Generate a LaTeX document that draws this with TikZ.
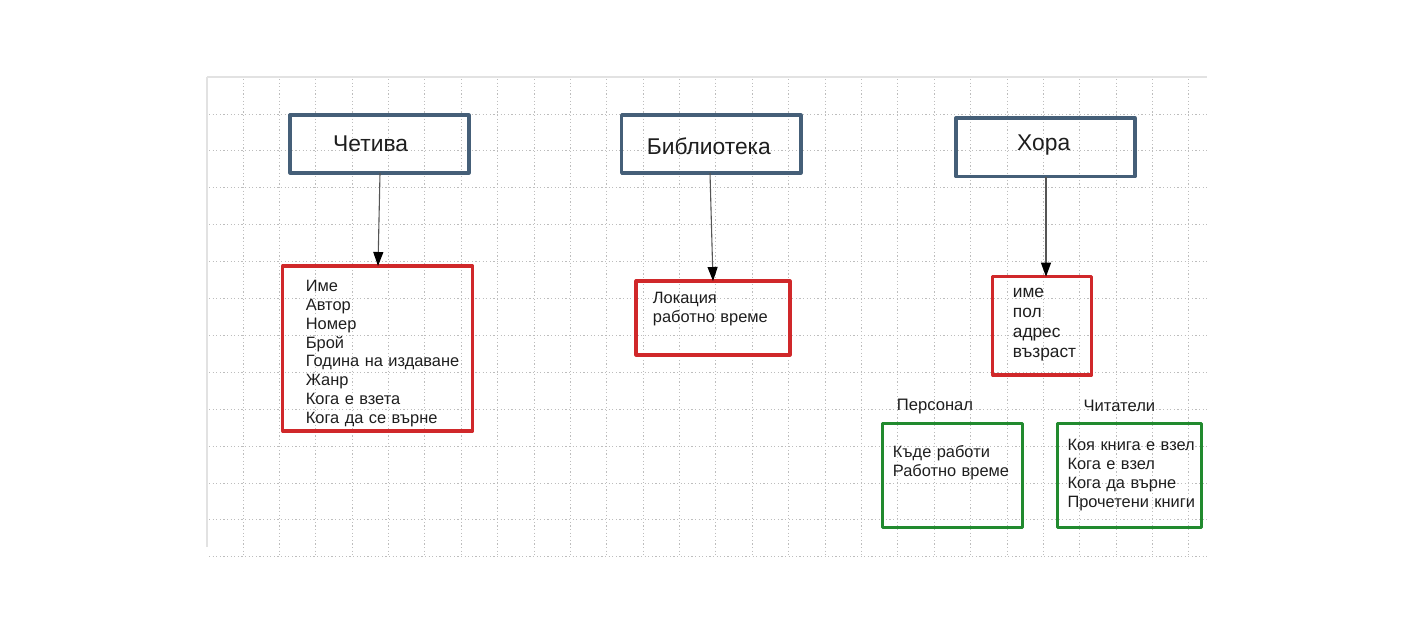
\documentclass[tikz,border=0pt]{standalone}
\usepackage{fontspec}
\setmainfont{Liberation Sans}
\usetikzlibrary{arrows.meta}
\definecolor{boxblue}{HTML}{455F78}
\definecolor{boxred}{HTML}{D0282A}
\definecolor{boxgreen}{HTML}{218A2E}
\definecolor{gridgray}{HTML}{BDBDBD}
\definecolor{edgegray}{HTML}{E2E2E2}
\definecolor{txt}{HTML}{1E1E1E}
\definecolor{arrowgray}{HTML}{555555}
\tikzset{
  gridline/.style={gridgray, line width=0.9pt, dash pattern=on 1.2pt off 2.4pt},
  titlebox/.style={draw=boxblue, line width=3.2pt, rectangle, inner sep=0pt, outer sep=0pt, line join=round},
  attrbox/.style={draw=boxred, line width=3.2pt, rectangle, inner sep=0pt, outer sep=0pt, line join=round},
  rolebox/.style={draw=boxgreen, line width=3.2pt, rectangle, inner sep=0pt, outer sep=0pt, line join=round},
  titletext/.style={txt, inner sep=0pt, anchor=base west, font=\fontsize{22.8}{27}\selectfont},
  attrtext/.style={txt, inner sep=0pt, anchor=base west, align=left, text width=200pt, font=\fontsize{16.4}{18.8}\selectfont},
  roletext/.style={txt, inner sep=0pt, anchor=base west, font=\fontsize{16.6}{18.8}\selectfont},
  link/.style={arrowgray, line width=1.1pt, -{Triangle[length=14pt,width=10pt,color=black]}}
}
\begin{document}
\begin{tikzpicture}[x=1pt,y=-1pt]
\useasboundingbox (0,0) rectangle (1416,631);
% grid
\foreach \i in {0,...,26} {
  \draw[gridline] ({243+36.38*\i},79) -- ({243+36.38*\i},557);
}
\foreach \j in {0,...,12} {
  \draw[gridline] (209,{114+36.9*\j}) -- (1207,{114+36.9*\j});
}
\draw[edgegray, line width=2.5pt] (207,77) -- (1207,77);
\draw[edgegray, line width=2.5pt] (207,77) -- (207,547);
% title boxes
\node[titlebox, minimum width=179pt, minimum height=58pt] (B1) at (379.5,144) {};
\node[titlebox, minimum width=179.3pt, minimum height=58pt] (B2) at (711.3,144) {};
\node[titlebox, minimum width=179pt, minimum height=58.7pt] (B3) at (1045.5,147.3) {};
\node[titletext] (T1) at (333,151.7) {Четива};
\node[titletext] (T2) at (646.7,155) {Библиотека};
\node[titletext] (T3) at (1017,150.7) {Хора};
% attribute boxes
\node[attrbox, minimum width=190pt, minimum height=165pt] (R1) at (377.7,348.5) {};
\node[attrbox, minimum width=154pt, minimum height=74pt] (R2) at (713,318) {};
\node[attrbox, minimum width=99pt, minimum height=98.3pt] (R3) at (1042.2,325.8) {};
\node[attrtext] (A1) at (305.7,291.7) {Име\\Автор\\Номер\\Брой\\Година на издаване\\Жанр\\Кога е взета\\Кога да се върне};
\node[attrtext, font=\fontsize{16.4}{19.4}\selectfont] (A2) at (652.7,303.3) {Локация\\работно време};
\node[attrtext, font=\fontsize{17.3}{19.9}\selectfont] (A3) at (1012.7,297.7) {име\\пол\\адрес\\възраст};
% role boxes
\node[rolebox, minimum width=140pt, minimum height=104pt] (G1) at (952.7,475.3) {};
\node[rolebox, minimum width=144.4pt, minimum height=104pt] (G2) at (1129.5,475.3) {};
\node[roletext] (L1) at (896.7,410) {Персонал};
\node[roletext] (L2) at (1083.3,411.7) {Читатели};
\node[attrtext, font=\fontsize{16.4}{19.4}\selectfont] (P1) at (892.7,457.3) {Къде работи\\Работно време};
\node[attrtext, font=\fontsize{16.4}{19}\selectfont] (P2) at (1067.3,450) {Коя книга е взел\\Кога е взел\\Кога да върне\\Прочетени книги};
% connectors
\draw[link] ([xshift=0.5pt]B1.south) -- ([xshift=0.3pt]R1.north);
\draw[link] ([xshift=-1.3pt]B2.south) -- (R2.north);
\draw[link] ([xshift=0.5pt]B3.south) -- ([xshift=3.8pt]R3.north);
\end{tikzpicture}
\end{document}
